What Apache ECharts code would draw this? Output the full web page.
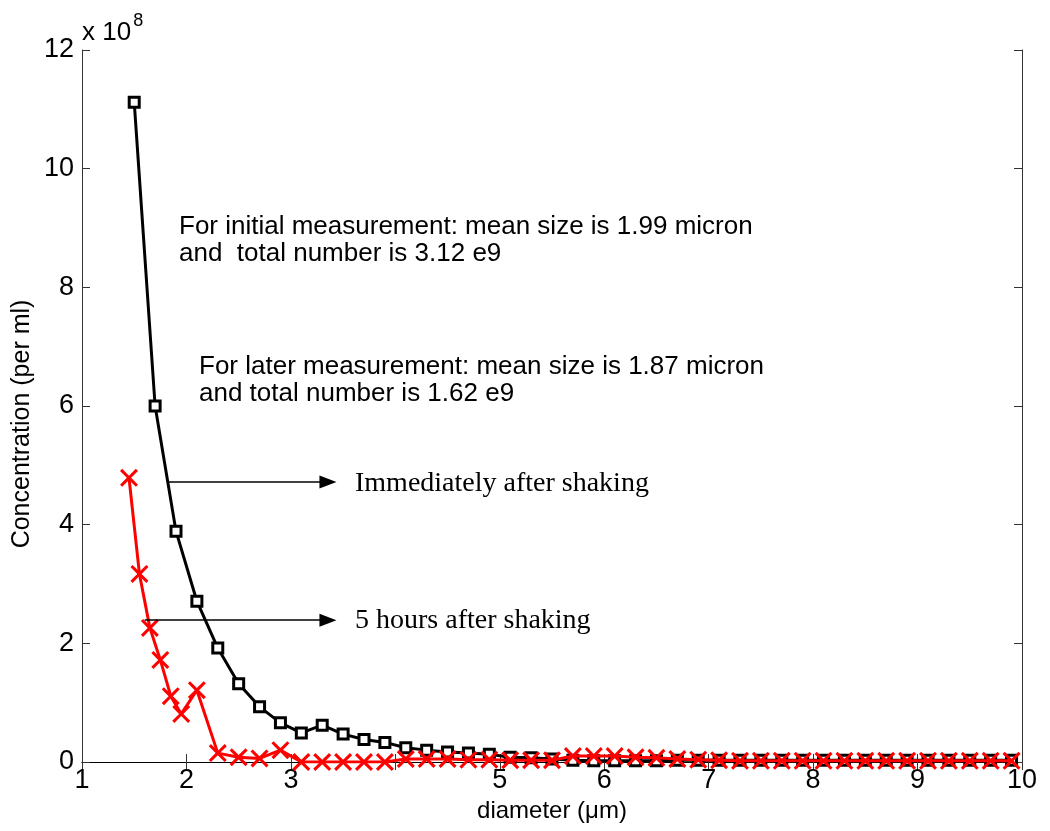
<!DOCTYPE html>
<html>
<head>
<meta charset="utf-8">
<script src="https://cdn.jsdelivr.net/npm/echarts@6/dist/echarts.min.js"></script>
<style>
  html, body { margin: 0; padding: 0; background: #fff; }
  #chart { width: 1050px; height: 831px; }
</style>
</head>
<body>
<div id="chart"></div>
<script>
// Particle size distribution: concentration (x10^8 per ml) against diameter (um)
const diameterInitial = [1.5, 1.7, 1.9, 2.1, 2.3, 2.5, 2.7, 2.9, 3.1, 3.3, 3.5, 3.7, 3.9, 4.1, 4.3, 4.5, 4.7, 4.9,
  5.1, 5.3, 5.5, 5.7, 5.9, 6.1, 6.3, 6.5, 6.7, 6.9, 7.1, 7.3, 7.5, 7.7, 7.9, 8.1, 8.3, 8.5, 8.7, 8.9,
  9.1, 9.3, 9.5, 9.7, 9.9];
const concInitial = [11.12, 6.0, 3.89, 2.71, 1.92, 1.32, 0.93, 0.66, 0.49, 0.62, 0.47, 0.38, 0.33, 0.24, 0.20, 0.17, 0.15, 0.13,
  0.08, 0.07, 0.05, 0.03, 0.02, 0.02, 0.02, 0.02, 0.03, 0.03, 0.03, 0.03, 0.03, 0.03, 0.03, 0.03, 0.03, 0.03, 0.03, 0.03,
  0.03, 0.03, 0.03, 0.03, 0.03];

const diameterLater = [1.45, 1.55, 1.65, 1.75, 1.85, 1.95, 2.1, 2.3, 2.5, 2.7, 2.9, 3.1, 3.3, 3.5, 3.7, 3.9, 4.1, 4.3, 4.5, 4.7, 4.9,
  5.1, 5.3, 5.5, 5.7, 5.9, 6.1, 6.3, 6.5, 6.7, 6.9, 7.1, 7.3, 7.5, 7.7, 7.9, 8.1, 8.3, 8.5, 8.7, 8.9,
  9.1, 9.3, 9.5, 9.7, 9.9];
const concLater = [4.79, 3.17, 2.26, 1.72, 1.11, 0.81, 1.21, 0.15, 0.08, 0.06, 0.20, 0.0, 0.0, 0.0, 0.0, 0.0, 0.05, 0.05, 0.05, 0.04, 0.04,
  0.03, 0.03, 0.03, 0.10, 0.10, 0.10, 0.08, 0.07, 0.05, 0.04, 0.03, 0.02, 0.02, 0.02, 0.02, 0.02, 0.02, 0.02, 0.02, 0.02,
  0.02, 0.02, 0.02, 0.02, 0.02];

const xTickLabels = ['1', '2', '3', '', '5', '6', '7', '8', '9', '10'];
const yTickLabels = ['0', '2', '4', '6', '8', '10', '12'];

// arrow pointers: [y, xStart, xEnd] in data units
const arrowImmediate = [4.72, 1.82, 3.355];
const arrowLater = [2.39, 1.60, 3.355];

const sansFont = '"Liberation Sans", Arial, sans-serif';
const serifFont = '"Liberation Serif", "Times New Roman", serif';
const crossPath = 'path://M0,1.2L1.2,0L5,3.8L8.8,0L10,1.2L6.2,5L10,8.8L8.8,10L5,6.2L1.2,10L0,8.8L3.8,5Z';

function pairs(xs, ys) { return xs.map((x, i) => [x, ys[i]]); }

const chart = echarts.init(document.getElementById('chart'), null, { renderer: 'canvas' });

const axisLine = { show: true, lineStyle: { color: '#333', width: 1 } };
const inTick = { show: true, inside: true, length: 8, lineStyle: { color: '#333', width: 1 } };

chart.setOption({
  animation: false,
  backgroundColor: '#fff',
  grid: { left: 82, right: 28, top: 50, bottom: 69, containLabel: false },
  xAxis: [{
    type: 'value', min: 1, max: 10, interval: 1, position: 'bottom',
    axisLine, axisTick: inTick, splitLine: { show: false },
    axisLabel: {
      margin: 5, color: '#000', fontFamily: sansFont, fontSize: 27,
      formatter: v => xTickLabels[Math.round(v) - 1]
    },
    name: 'diameter (\u03bcm)', nameLocation: 'middle', nameGap: 25,
    nameTextStyle: { color: '#000', fontFamily: sansFont, fontSize: 24 }
  }, {
    type: 'value', min: 1, max: 10, interval: 1, position: 'top',
    axisLine: { show: true, lineStyle: { color: '#000', width: 1 } },
    axisTick: inTick, axisLabel: { show: false }, splitLine: { show: false }
  }],
  yAxis: [{
    type: 'value', min: 0, max: 12, interval: 2, position: 'left',
    axisLine, axisTick: inTick, splitLine: { show: false },
    axisLabel: {
      margin: 8, color: '#000', fontFamily: sansFont, fontSize: 27,
      formatter: v => yTickLabels[Math.round(v / 2)]
    }
  }, {
    type: 'value', min: 0, max: 12, interval: 2, position: 'right',
    axisLine, axisTick: inTick, axisLabel: { show: false }, splitLine: { show: false }
  }],
  series: [{
    name: 'Immediately after shaking',
    type: 'line',
    data: pairs(diameterInitial, concInitial),
    symbol: 'rect', symbolSize: 10,
    itemStyle: { color: '#fff', borderColor: '#000', borderWidth: 3 },
    lineStyle: { color: '#000', width: 3 },
    z: 2,
    markLine: {
      silent: true,
      symbol: ['none', 'triangle'],
      symbolSize: [13, 17],
      label: { show: false },
      lineStyle: { color: '#000', width: 1.5, type: 'solid' },
      data: [
        [{ coord: [arrowImmediate[1], arrowImmediate[0]] }, { coord: [arrowImmediate[2], arrowImmediate[0]] }],
        [{ coord: [arrowLater[1], arrowLater[0]] }, { coord: [arrowLater[2], arrowLater[0]] }]
      ]
    }
  }, {
    name: '5 hours after shaking',
    type: 'line',
    data: pairs(diameterLater, concLater),
    symbol: crossPath, symbolSize: 18,
    itemStyle: { color: '#ff0000' },
    lineStyle: { color: '#ff0000', width: 3 },
    z: 3
  }],
  graphic: [
    {
      type: 'text', x: 22, y: 424, rotation: Math.PI / 2,
      style: {
        text: 'Concentration (per ml)', fontFamily: sansFont, fontSize: 25, fill: '#000',
        align: 'center', verticalAlign: 'middle'
      }
    },
    {
      type: 'text', left: 82, top: 12,
      style: {
        text: '{a|x 10}{b|8}',
        rich: {
          a: { fontFamily: sansFont, fontSize: 26, fill: '#000', verticalAlign: 'bottom' },
          b: { fontFamily: sansFont, fontSize: 18, fill: '#000', verticalAlign: 'top', padding: [0, 0, 16, 2] }
        }
      }
    },
    {
      type: 'text', left: 179, top: 213,
      style: {
        text: 'For initial measurement: mean size is 1.99 micron\nand  total number is 3.12 e9',
        fontFamily: sansFont, fontSize: 26, lineHeight: 27, fill: '#000'
      }
    },
    {
      type: 'text', left: 199, top: 353,
      style: {
        text: 'For later measurement: mean size is 1.87 micron\nand total number is 1.62 e9',
        fontFamily: sansFont, fontSize: 26, lineHeight: 27, fill: '#000'
      }
    },
    {
      type: 'text', left: 355, top: 470,
      style: { text: 'Immediately after shaking', fontFamily: serifFont, fontSize: 28, fill: '#000' }
    },
    {
      type: 'text', left: 355, top: 607,
      style: { text: '5 hours after shaking', fontFamily: serifFont, fontSize: 28, fill: '#000' }
    }
  ]
});
</script>
</body>
</html>
